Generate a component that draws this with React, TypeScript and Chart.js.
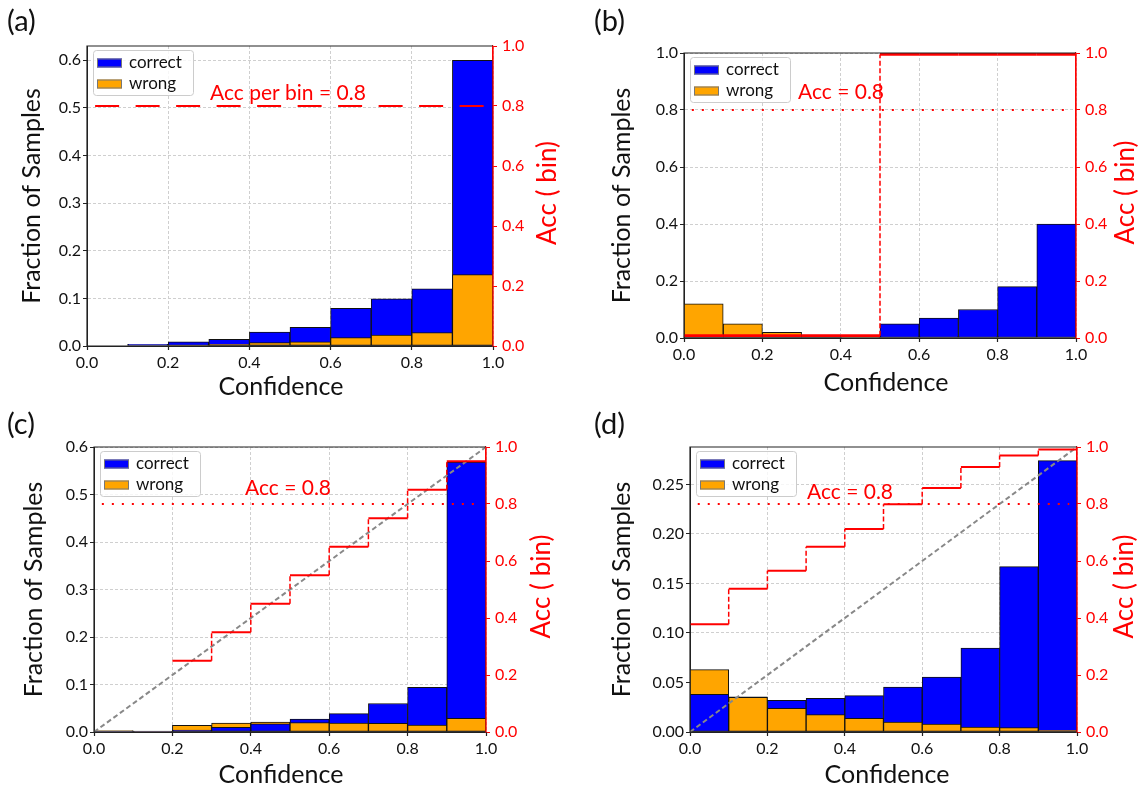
import React, { useEffect, useRef } from 'react';
import { Chart, registerables } from 'chart.js';
Chart.register(...registerables);

const FONT = 'Lato, "Open Sans", sans-serif';
const BLUE = '#0000ff';
const ORANGE = '#ffa500';
const RED = '#ff0000';

// ---- data ----
const binCenters = [0.05, 0.15, 0.25, 0.35, 0.45, 0.55, 0.65, 0.75, 0.85, 0.95];
const binEdges = [0, 0.1, 0.2, 0.3, 0.4, 0.5, 0.6, 0.7, 0.8, 0.9, 1.0];
const seriesNames = ['correct', 'wrong'];

const aCorrect = [null, 0.0035, 0.009, 0.014, 0.029, 0.039, 0.079, 0.099, 0.12, 0.6];
const aWrong = [null, null, 0.001, 0.0035, 0.007, 0.0085, 0.0175, 0.023, 0.028, 0.15];

const bCorrect = [null, null, null, null, null, 0.05, 0.07, 0.1, 0.18, 0.4];
const bWrong = [0.12, 0.05, 0.02, 0.01, 0.005, null, null, null, null, null];
const bAcc = [0.008, 0.008, 0.008, 0.008, 0.008, 0.995, 0.995, 0.995, 0.995, 0.995];

const cCorrect = [0.001, 0.002, 0.004, 0.01, 0.017, 0.027, 0.0386, 0.06, 0.094, 0.568];
const cWrong = [0.003, 0.001, 0.014, 0.019, 0.021, 0.02, 0.019, 0.018, 0.0147, 0.0288];
const cAcc = [null, null, 0.25, 0.35, 0.45, 0.55, 0.65, 0.75, 0.85, 0.95];

const dCorrect = [0.038, 0.0355, 0.032, 0.034, 0.0367, 0.0454, 0.0555, 0.0848, 0.167, 0.274];
const dWrong = [0.063, 0.035, 0.024, 0.0175, 0.0138, 0.0101, 0.0081, 0.005, 0.0044, 0.0017];
const dAcc = [0.378, 0.503, 0.566, 0.65, 0.712, 0.799, 0.856, 0.93, 0.97, 0.991];

const accLevel = 0.8;
const levelSpan = [0.02, 0.98];

type Num = number | null;
interface Panel {
  letter: string;
  correct: Num[];
  wrong: Num[];
  acc: Num[] | null;
  accWidth: number;
  levelStyle: 'dashed' | 'dotted';
  accText: string;
  diagonal: boolean;
  yMax: number;
  yStep: number;
  dec: number;
  canvas: { x: number; y: number; w: number; h: number };
  area: { L: number; T: number; R: number; B: number };
  letterPos: [number, number];
  textPos: [number, number];
  leftTitleX: number;
  rightTitleX: number;
  xTitle: [number, number];
}

const panels: Panel[] = [
  {
    letter: '(a)', correct: aCorrect, wrong: aWrong, acc: null, accWidth: 2, levelStyle: 'dashed',
    accText: 'Acc per bin = 0.8', diagonal: false, yMax: 0.63, yStep: 0.1, dec: 1,
    canvas: { x: 0, y: 0, w: 574, h: 410 }, area: { L: 87, T: 46, R: 493, B: 346 },
    letterPos: [7, 31], textPos: [210, 100], leftTitleX: 32, rightTitleX: 548, xTitle: [281, 395],
  },
  {
    letter: '(b)', correct: bCorrect, wrong: bWrong, acc: bAcc, accWidth: 2.7, levelStyle: 'dotted',
    accText: 'Acc = 0.8', diagonal: false, yMax: 1.0, yStep: 0.2, dec: 1,
    canvas: { x: 574, y: 0, w: 574, h: 410 }, area: { L: 684, T: 53, R: 1076, B: 338 },
    letterPos: [594, 31], textPos: [798, 99], leftTitleX: 622, rightTitleX: 1126, xTitle: [886, 391],
  },
  {
    letter: '(c)', correct: cCorrect, wrong: cWrong, acc: cAcc, accWidth: 2, levelStyle: 'dotted',
    accText: 'Acc = 0.8', diagonal: true, yMax: 0.6, yStep: 0.1, dec: 1,
    canvas: { x: 0, y: 394, w: 574, h: 395 }, area: { L: 94, T: 447, R: 486, B: 732 },
    letterPos: [7, 434], textPos: [245, 495], leftTitleX: 34, rightTitleX: 542, xTitle: [281, 783],
  },
  {
    letter: '(d)', correct: dCorrect, wrong: dWrong, acc: dAcc, accWidth: 2, levelStyle: 'dotted',
    accText: 'Acc = 0.8', diagonal: true, yMax: 0.2877, yStep: 0.05, dec: 2,
    canvas: { x: 574, y: 394, w: 574, h: 395 }, area: { L: 690, T: 447, R: 1077, B: 732 },
    letterPos: [594, 434], textPos: [807, 499], leftTitleX: 622, rightTitleX: 1125, xTitle: [887, 783],
  },
];

function splitBars(correct: Num[], wrong: Num[]) {
  const backV: Num[] = [], backC: string[] = [], frontV: Num[] = [], frontC: string[] = [];
  correct.forEach((c, i) => {
    const w = wrong[i];
    if (c == null && w == null) { backV.push(null); backC.push(BLUE); frontV.push(null); frontC.push(BLUE); }
    else if (w == null) { backV.push(c); backC.push(BLUE); frontV.push(null); frontC.push(BLUE); }
    else if (c == null) { backV.push(w); backC.push(ORANGE); frontV.push(null); frontC.push(BLUE); }
    else if (c >= w) { backV.push(c); backC.push(BLUE); frontV.push(w); frontC.push(ORANGE); }
    else { backV.push(w); backC.push(ORANGE); frontV.push(c); frontC.push(BLUE); }
  });
  return { backV, backC, frontV, frontC };
}

function stepPoints(acc: Num[]) {
  const pts: { x: number; y: Num }[] = [];
  acc.forEach((a, i) => {
    if (a == null) { pts.push({ x: binEdges[i], y: null }); return; }
    pts.push({ x: binEdges[i], y: a });
    pts.push({ x: binEdges[i + 1], y: a });
  });
  return pts;
}

function makePlugin(p: Panel) {
  return {
    id: 'decor',
    afterDraw(chart: any) {
      const ctx: CanvasRenderingContext2D = chart.ctx;
      const { left: L, right: R, top: T, bottom: B } = chart.chartArea;
      const ox = p.canvas.x, oy = p.canvas.y;
      ctx.save();
      // spines
      ctx.lineWidth = 1.2;
      ctx.strokeStyle = '#222';
      ctx.beginPath();
      ctx.moveTo(L, B); ctx.lineTo(L, T); ctx.lineTo(R, T);
      ctx.moveTo(L, B); ctx.lineTo(R, B);
      ctx.stroke();
      ctx.strokeStyle = RED;
      ctx.beginPath(); ctx.moveTo(R, T); ctx.lineTo(R, B); ctx.stroke();

      // panel letter
      ctx.fillStyle = '#111';
      ctx.font = `29px ${FONT}`;
      ctx.textAlign = 'left';
      ctx.textBaseline = 'alphabetic';
      ctx.fillText(p.letter, p.letterPos[0] - ox, p.letterPos[1] - oy);

      // x title
      ctx.font = `25px ${FONT}`;
      ctx.textAlign = 'center';
      ctx.fillText('Confidence', p.xTitle[0] - ox, p.xTitle[1] - oy);

      // left title
      const midY = (T + B) / 2;
      ctx.save();
      ctx.translate(p.leftTitleX - ox, midY);
      ctx.rotate(-Math.PI / 2);
      ctx.textAlign = 'center';
      ctx.textBaseline = 'middle';
      ctx.font = `25px ${FONT}`;
      ctx.fillText('Fraction of Samples', 0, 0);
      ctx.restore();

      // right title
      ctx.save();
      ctx.translate(p.rightTitleX - ox, midY - 3);
      ctx.rotate(-Math.PI / 2);
      ctx.textAlign = 'center';
      ctx.textBaseline = 'middle';
      ctx.font = `26px ${FONT}`;
      ctx.fillStyle = RED;
      ctx.fillText('Acc ( bin)', 0, 0);
      ctx.restore();

      // annotation
      ctx.fillStyle = RED;
      ctx.font = `21px ${FONT}`;
      ctx.textAlign = 'left';
      ctx.textBaseline = 'alphabetic';
      ctx.fillText(p.accText, p.textPos[0] - ox, p.textPos[1] - oy);

      // legend
      const bx = L + 6, by = T + 4, bw = 100, bh = 45;
      ctx.beginPath();
      (ctx as any).roundRect(bx + 0.5, by + 0.5, bw, bh, 3);
      ctx.fillStyle = 'rgba(255,255,255,0.8)';
      ctx.fill();
      ctx.strokeStyle = '#cccccc';
      ctx.lineWidth = 1;
      ctx.stroke();
      const colors = [BLUE, ORANGE];
      seriesNames.forEach((name, i) => {
        const cy = by + 13 + i * 21;
        ctx.fillStyle = colors[i];
        ctx.fillRect(bx + 4, cy - 4.5, 25, 9);
        ctx.strokeStyle = '#777';
        ctx.lineWidth = 1;
        ctx.strokeRect(bx + 4.5, cy - 4, 24, 8);
        ctx.fillStyle = '#111';
        ctx.font = `17px ${FONT}`;
        ctx.textBaseline = 'middle';
        ctx.textAlign = 'left';
        ctx.fillText(name, bx + 36, cy);
      });
      ctx.restore();
    },
  };
}

function buildConfig(p: Panel): any {
  const { backV, backC, frontV, frontC } = splitBars(p.correct, p.wrong);
  const cv = p.canvas, a = p.area;
  const leftW = a.L - cv.x;
  const rightW = cv.x + cv.w - a.R;
  const bottomH = cv.y + cv.h - a.B;
  const topPad = a.T - cv.y;

  const barCommon = {
    type: 'bar',
    yAxisID: 'y',
    borderColor: '#111',
    borderWidth: 1,
    borderSkipped: false,
    grouped: false,
    barPercentage: 1,
    categoryPercentage: 1,
  };
  const datasets: any[] = [
    { ...barCommon, label: 'front', data: frontV.map((v, i) => ({ x: binCenters[i], y: v })), backgroundColor: frontC, order: 5 },
    { ...barCommon, label: 'back', data: backV.map((v, i) => ({ x: binCenters[i], y: v })), backgroundColor: backC, order: 6 },
    {
      type: 'line', label: 'level', yAxisID: 'y2',
      data: [{ x: levelSpan[0], y: accLevel }, { x: levelSpan[1], y: accLevel }],
      borderColor: RED, borderWidth: 2,
      borderDash: p.levelStyle === 'dashed' ? [24, 16.5] : [2, 8],
      pointRadius: 0, fill: false, order: 1,
    },
  ];
  if (p.diagonal) {
    datasets.push({
      type: 'line', label: 'diag', yAxisID: 'y2',
      data: [{ x: 0, y: 0 }, { x: 1, y: 1 }],
      borderColor: '#888888', borderWidth: 2, borderDash: [5, 3],
      pointRadius: 0, fill: false, order: 2,
    });
  }
  if (p.acc) {
    datasets.push({
      type: 'line', label: 'acc', yAxisID: 'y2',
      data: stepPoints(p.acc),
      borderColor: RED, borderWidth: p.accWidth,
      pointRadius: 0, fill: false, spanGaps: false, order: 0,
      segment: {
        borderDash: (c: any) => (c.p0.parsed.x === c.p1.parsed.x ? [5, 2.5] : undefined),
        borderWidth: (c: any) => (c.p0.parsed.x === c.p1.parsed.x ? 1.5 : undefined),
      },
    });
  }

  const gridCommon = {
    color: '#cfcfcf',
    lineWidth: 1,
    tickLength: 4,
    tickColor: '#222',
    tickWidth: 1.2,
    tickBorderDash: [1, 0],
  };

  return {
    type: 'bar',
    data: { datasets },
    options: {
      responsive: false,
      animation: false,
      events: [],
      layout: { padding: { top: topPad, left: 0, right: 0, bottom: 0 } },
      plugins: { legend: { display: false }, tooltip: { enabled: false }, title: { display: false } },
      scales: {
        x: {
          type: 'linear', min: 0, max: 1, offset: false, z: 1,
          grid: { ...gridCommon, offset: false },
          border: { display: true, color: '#222', width: 1, dash: [3, 2] },
          ticks: {
            stepSize: 0.2, padding: 3, color: '#111', maxRotation: 0, includeBounds: false,
            font: { family: FONT, size: 16 },
            callback: (v: number) => v.toFixed(1),
          },
          afterFit: (s: any) => { s.height = bottomH; },
        },
        y: {
          type: 'linear', position: 'left', min: 0, max: p.yMax, z: 1,
          grid: { ...gridCommon },
          border: { display: true, color: '#222', width: 1, dash: [3, 2] },
          ticks: {
            stepSize: p.yStep, padding: 2, color: '#111', includeBounds: false,
            font: { family: FONT, size: 16 },
            callback: (v: number) => v.toFixed(p.dec),
          },
          afterFit: (s: any) => { s.width = leftW; },
        },
        y2: {
          type: 'linear', position: 'right', min: 0, max: 1, z: 1,
          grid: { drawOnChartArea: false, tickLength: 4, tickColor: RED, tickWidth: 1.2, tickBorderDash: [1, 0] },
          border: { display: true, color: RED, width: 1.2 },
          ticks: {
            stepSize: 0.2, padding: 5, color: RED, includeBounds: false,
            font: { family: FONT, size: 16 },
            callback: (v: number) => v.toFixed(1),
          },
          afterFit: (s: any) => { s.width = rightW; },
        },
      },
    },
    plugins: [makePlugin(p)],
  };
}

function PanelChart({ p }: { p: Panel }) {
  const ref = useRef<HTMLCanvasElement>(null);
  useEffect(() => {
    if (!ref.current) return;
    const chart = new Chart(ref.current, buildConfig(p));
    return () => chart.destroy();
  }, [p]);
  return (
    <canvas
      ref={ref}
      width={p.canvas.w}
      height={p.canvas.h}
      style={{ position: 'absolute', left: p.canvas.x, top: p.canvas.y, width: p.canvas.w, height: p.canvas.h }}
    />
  );
}

export default function App() {
  return (
    <div style={{ position: 'absolute', left: 0, top: 0, width: 1148, height: 789, background: '#fff', overflow: 'hidden' }}>
      {panels.map((p) => (
        <PanelChart key={p.letter} p={p} />
      ))}
    </div>
  );
}
